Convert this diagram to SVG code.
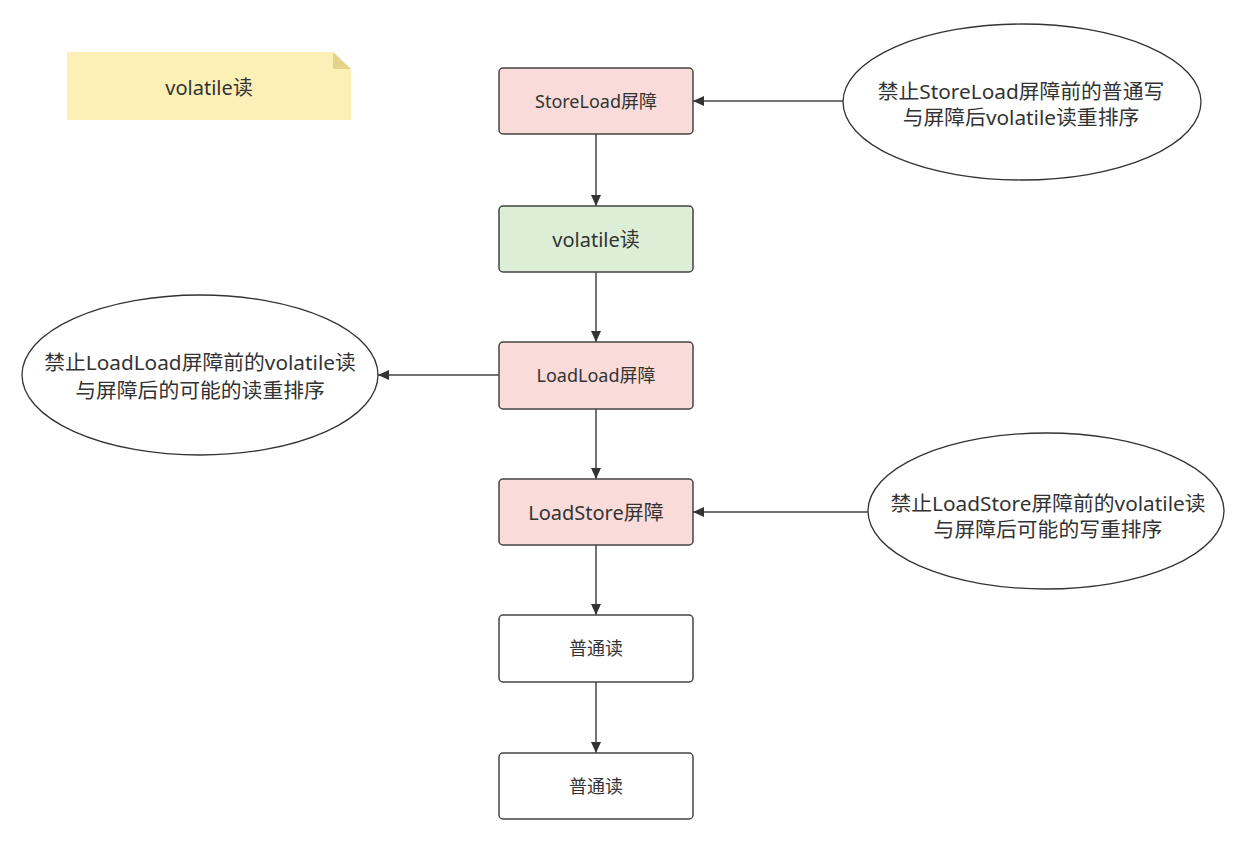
<svg xmlns="http://www.w3.org/2000/svg" width="1257" height="850" viewBox="0 0 1257 850">
<style>
text{font-family:"Noto Sans","Noto Sans CJK SC",sans-serif;fill:#333;text-anchor:middle;dominant-baseline:central}
.box{stroke:#444;stroke-width:1.5}
.pink{fill:#f9dcd9}
.green{fill:#dcefd6}
.white{fill:#fff}
.ell{fill:#fff;stroke:#333;stroke-width:1.3}
.edge{stroke:#444;stroke-width:1.5;fill:none;marker-end:url(#arr)}
.s18{font-size:18px}
.s20{font-size:20px}
.e21{font-size:20.8px}
</style>
<defs>
<marker id="arr" markerUnits="userSpaceOnUse" markerWidth="12" markerHeight="10" refX="11" refY="5" orient="auto">
<path d="M0,0 L11,5 L0,10 Z" fill="#333"/>
</marker>
</defs>
<rect width="1257" height="850" fill="#fff"/>
<g id="note">
<path d="M67,52 L333,52 L351,69 L351,120 L67,120 Z" fill="#fcf0b6"/>
<path d="M333,52 L351,69 L333,69 Z" fill="#e3d38d"/>
<text class="s20" x="209" y="87">volatile读</text>
</g>
<g id="connectors">
<line class="edge" x1="596" y1="134" x2="596" y2="206"/>
<line class="edge" x1="596" y1="272" x2="596" y2="342"/>
<line class="edge" x1="596" y1="409" x2="596" y2="479"/>
<line class="edge" x1="596" y1="545" x2="596" y2="615"/>
<line class="edge" x1="596" y1="682" x2="596" y2="753"/>
<line class="edge" x1="843" y1="101" x2="693" y2="101"/>
<line class="edge" x1="499" y1="375" x2="378" y2="375"/>
<line class="edge" x1="868" y1="512" x2="693" y2="512"/>
</g>
<g id="storeload">
<rect class="box pink" x="499" y="68" width="194" height="66" rx="4"/>
<text class="s18" x="596" y="101">StoreLoad屏障</text>
</g>
<g id="vread">
<rect class="box green" x="499" y="206" width="194" height="66" rx="4"/>
<text class="s20" x="596" y="239">volatile读</text>
</g>
<g id="loadload">
<rect class="box pink" x="499" y="342" width="194" height="67" rx="4"/>
<text class="s18" x="596" y="375">LoadLoad屏障</text>
</g>
<g id="loadstore">
<rect class="box pink" x="499" y="479" width="194" height="66" rx="4"/>
<text class="s20" x="596" y="512">LoadStore屏障</text>
</g>
<g id="read1">
<rect class="box white" x="499" y="615" width="194" height="67" rx="4"/>
<text class="s18" x="596" y="648">普通读</text>
</g>
<g id="read2">
<rect class="box white" x="499" y="753" width="194" height="66" rx="4"/>
<text class="s18" x="596" y="786">普通读</text>
</g>
<g id="ell1">
<ellipse class="ell" cx="1022" cy="102" rx="179" ry="78"/>
<text class="e21" x="1021" y="91">禁止StoreLoad屏障前的普通写</text>
<text class="e21" x="1021" y="117">与屏障后volatile读重排序</text>
</g>
<g id="ell2">
<ellipse class="ell" cx="200" cy="375" rx="178" ry="80"/>
<text class="e21" x="200" y="362">禁止LoadLoad屏障前的volatile读</text>
<text class="e21" x="200" y="390">与屏障后的可能的读重排序</text>
</g>
<g id="ell3">
<ellipse class="ell" cx="1046" cy="511" rx="178" ry="78"/>
<text class="e21" x="1048" y="503">禁止LoadStore屏障前的volatile读</text>
<text class="e21" x="1048" y="529">与屏障后可能的写重排序</text>
</g>
</svg>
